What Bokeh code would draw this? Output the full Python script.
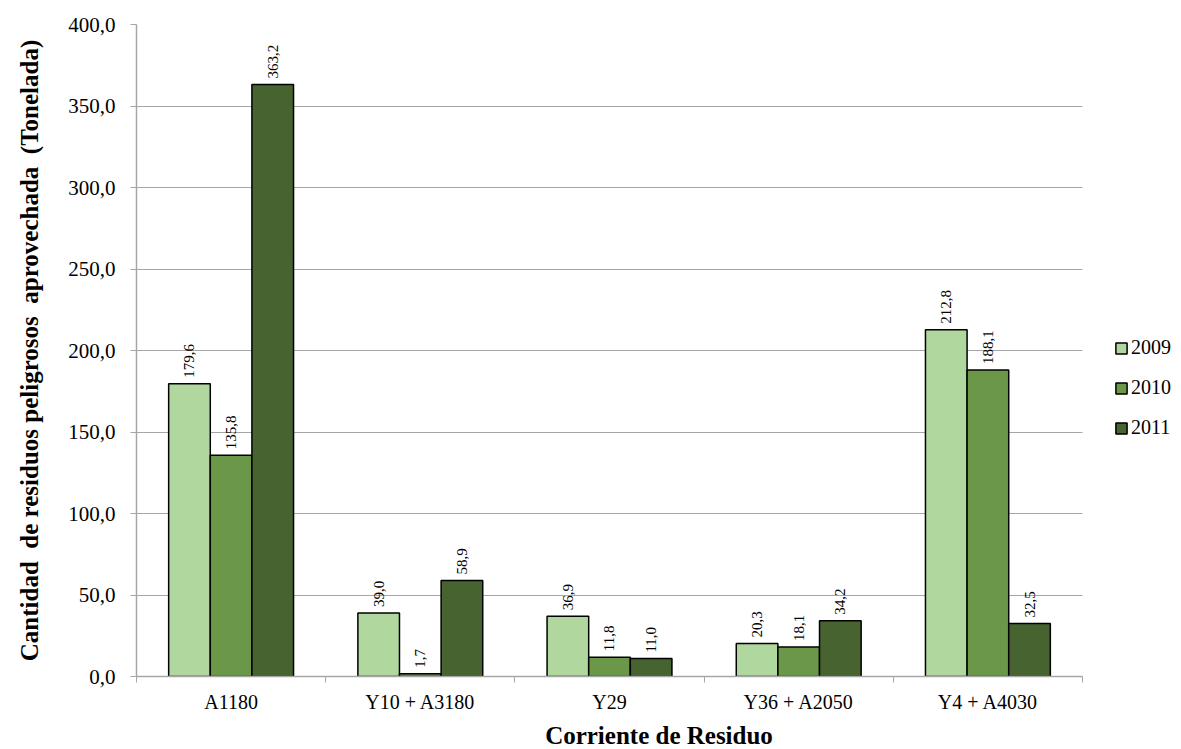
import numpy as np
from bokeh.plotting import figure
from bokeh.models import (ColumnDataSource, Range1d, FixedTicker, Legend, LegendItem, LabelSet)
from bokeh.embed import file_html
from bokeh.resources import INLINE

categories = ["A1180", "Y10 + A3180", "Y29", "Y36 + A2050", "Y4 + A4030"]
years = ["2009", "2010", "2011"]
v2009 = [179.6, 39.0, 36.9, 20.3, 212.8]
v2010 = [135.8, 1.7, 11.8, 18.1, 188.1]
v2011 = [363.2, 58.9, 11.0, 34.2, 32.5]
y_ticks = [0, 50, 100, 150, 200, 250, 300, 350, 400]
y_tick_labels = ["0,0", "50,0", "100,0", "150,0", "200,0", "250,0", "300,0", "350,0", "400,0"]

colors = ["#b0d79e", "#6a9848", "#466330"]
series = [v2009, v2010, v2011]

n = len(categories)
plot_px, frame_px = 946, 1045          # plotted category area vs. frame incl. legend area
x_end = n * frame_px / plot_px

p = figure(width=1181, height=749, output_backend="svg", toolbar_location=None,
           x_range=Range1d(0, x_end), y_range=Range1d(0, 400),
           min_border_left=136, min_border_right=0, min_border_top=24, min_border_bottom=70)
p.frame_width = frame_px
p.frame_height = 652
p.outline_line_color = None
p.background_fill_color = "white"

bw = 0.22
centers = np.arange(n) + 0.5
items = []
for i, (vals, col, yr) in enumerate(zip(series, colors, years)):
    xs = centers + (i - 1) * bw
    src = ColumnDataSource(dict(x=xs, top=vals, lab=[f"{v:.1f}".replace(".", ",") for v in vals]))
    r = p.vbar(x="x", top="top", bottom=0, width=bw, source=src, fill_color=col,
               line_color="black", line_width=1.5)
    items.append(LegendItem(label=yr, renderers=[r]))
    lbl = LabelSet(x="x", y="top", text="lab", source=src, angle=np.pi / 2,
                   text_align="left", text_baseline="middle", y_offset=6,
                   text_font="Liberation Sans", text_font_size="15px", text_color="black")
    p.add_layout(lbl)

grid_col = "#a6a6a6"
p.xgrid.grid_line_color = None
p.ygrid.grid_line_color = grid_col
p.ygrid.grid_line_width = 1
p.ygrid.ticker = FixedTicker(ticks=y_ticks)
p.ygrid.cross_bounds = (0, n)

p.yaxis.ticker = FixedTicker(ticks=y_ticks)
p.yaxis.major_label_overrides = {t: l for t, l in zip(y_ticks, y_tick_labels)}
p.yaxis.axis_line_color = grid_col
p.yaxis.axis_line_width = 1.5
p.yaxis.major_tick_line_color = grid_col
p.yaxis.major_tick_out = 6
p.yaxis.major_tick_in = 0
p.yaxis.minor_tick_line_color = None
p.yaxis.major_label_text_font = "Liberation Serif"
p.yaxis.major_label_text_font_size = "21px"
p.yaxis.major_label_text_color = "black"
p.yaxis.major_label_standoff = 15
p.yaxis.axis_label = "Cantidad\u00a0 de residuos peligrosos\u00a0 aprovechada\u00a0 (Tonelada)"
p.yaxis.axis_label_text_font = "Liberation Serif"
p.yaxis.axis_label_text_font_style = "bold"
p.yaxis.axis_label_text_font_size = "25px"
p.yaxis.axis_label_text_color = "black"
p.yaxis.axis_label_standoff = 22

p.xaxis.bounds = (0, n)
p.xaxis.ticker = FixedTicker(ticks=list(centers), minor_ticks=list(range(n + 1)))
p.xaxis.major_label_overrides = {float(c): name for c, name in zip(centers, categories)}
p.xaxis.axis_line_color = grid_col
p.xaxis.axis_line_width = 1.5
p.xaxis.major_tick_line_color = None
p.xaxis.major_tick_out = 6
p.xaxis.major_tick_in = 0
p.xaxis.minor_tick_line_color = grid_col
p.xaxis.minor_tick_out = 6
p.xaxis.minor_tick_in = 0
p.xaxis.major_label_text_font = "Liberation Serif"
p.xaxis.major_label_text_font_size = "20px"
p.xaxis.major_label_text_color = "black"
p.xaxis.major_label_standoff = 8
p.xaxis.axis_label = "Corriente de Residuo"
p.xaxis.axis_label_text_font = "Liberation Serif"
p.xaxis.axis_label_text_font_style = "bold"
p.xaxis.axis_label_text_font_size = "25px"
p.xaxis.axis_label_text_color = "black"
p.xaxis.axis_label_standoff = 6

legend = Legend(items=items, location=(978, 237), orientation="vertical",
                label_text_font="Liberation Serif", label_text_font_size="20px",
                label_text_color="black",
                glyph_width=14, glyph_height=14, label_height=20, spacing=17,
                label_standoff=3, padding=4, margin=0,
                border_line_color=None, background_fill_alpha=0)
p.add_layout(legend, "center")

open("out.html", "w").write(file_html(p, INLINE))
